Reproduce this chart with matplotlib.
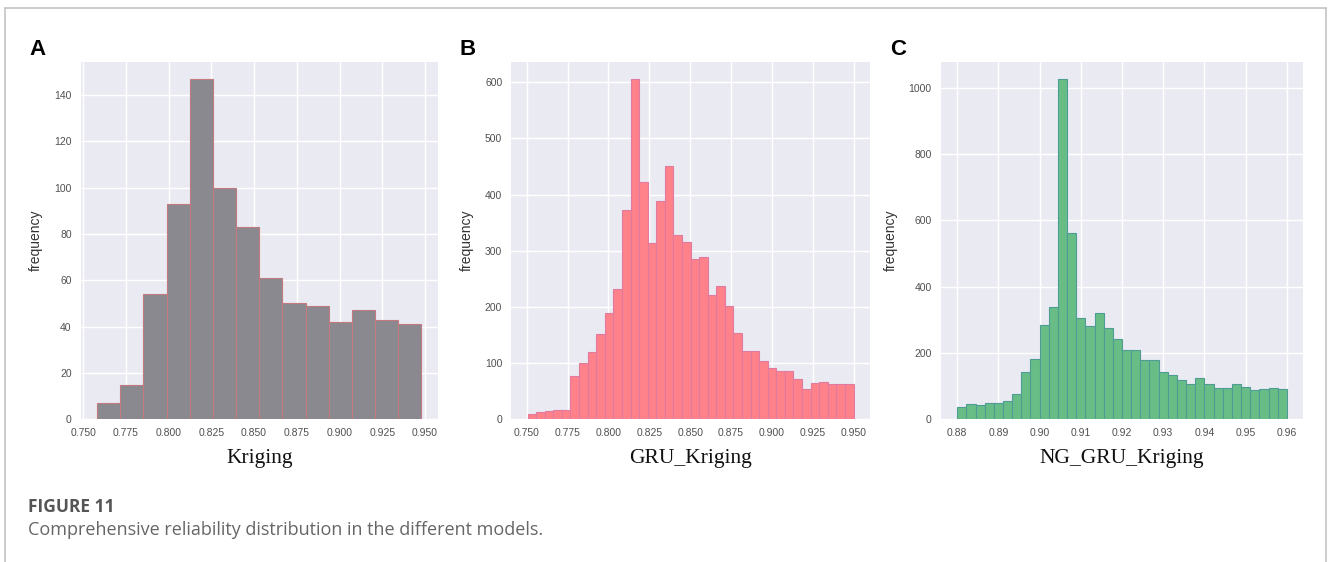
import numpy as np
import matplotlib
matplotlib.use("Agg")
import matplotlib.pyplot as plt
import seaborn as sns
from matplotlib.lines import Line2D

# bin counts read per model
kriging_counts = [7, 15, 54, 93, 147, 100, 83, 61, 50, 49, 42, 47, 43, 41]
kriging_range = (0.758, 0.948)

gru_counts = [10, 13, 15, 17, 17, 77, 101, 119, 151, 190, 231, 372, 606, 423,
              313, 389, 450, 328, 315, 285, 288, 222, 238, 201, 153, 121, 121,
              103, 92, 86, 86, 72, 53, 65, 66, 63, 63, 62]
gru_range = (0.7505, 0.950)

ng_counts = [38, 46, 42, 50, 50, 54, 77, 142, 182, 284, 338, 1027, 561, 305,
             280, 321, 276, 243, 209, 209, 179, 179, 142, 133, 119, 105, 123,
             107, 93, 93, 107, 97, 89, 91, 94, 91]
ng_range = (0.880, 0.960)

panels = [
    ("A", "Kriging", kriging_counts, kriging_range, "#8a8990", "#c27a7e",
     [0.750, 0.775, 0.800, 0.825, 0.850, 0.875, 0.900, 0.925, 0.950], "{:.3f}",
     [0, 20, 40, 60, 80, 100, 120, 140]),
    ("B", "GRU_Kriging", gru_counts, gru_range, "#ff828b", "#e07a9e",
     [0.750, 0.775, 0.800, 0.825, 0.850, 0.875, 0.900, 0.925, 0.950], "{:.3f}",
     [0, 100, 200, 300, 400, 500, 600]),
    ("C", "NG_GRU_Kriging", ng_counts, ng_range, "#68bd86", "#4d9c96",
     [0.88, 0.89, 0.90, 0.91, 0.92, 0.93, 0.94, 0.95, 0.96], "{:.2f}",
     [0, 200, 400, 600, 800, 1000]),
]

sns.set_style("darkgrid")
plt.rcParams["font.family"] = ["Liberation Sans", "DejaVu Sans"]

fig = plt.figure(figsize=(13.28, 5.62), dpi=100)
fig.patch.set_facecolor("white")

boxes = [(0.0608, 0.254, 0.2688, 0.636),
         (0.3850, 0.254, 0.2700, 0.636),
         (0.7084, 0.254, 0.2730, 0.636)]
letter_x = [0.022, 0.346, 0.670]

for (letter, name, counts, rng, face, edge, xt, fmt, yt), box, lx in zip(panels, boxes, letter_x):
    ax = fig.add_axes(box)
    edges = np.linspace(rng[0], rng[1], len(counts) + 1)
    ax.bar(edges[:-1], counts, width=np.diff(edges), align="edge",
           color=face, edgecolor=edge, linewidth=0.8)
    ax.set_xticks(xt)
    ax.set_xticklabels([fmt.format(v) for v in xt])
    ax.set_yticks(yt)
    ax.tick_params(axis="both", labelsize=7.5, colors="#505050", pad=3)
    ax.set_ylabel("frequency", fontsize=10, color="#333333", labelpad=8)
    ax.set_xlabel(name, fontsize=15.5, family=["Liberation Serif", "DejaVu Serif"],
                  color="#111111", labelpad=8)
    ax.grid(True, color="white", linewidth=1.0)
    ax.set_axisbelow(True)
    for s in ax.spines.values():
        s.set_visible(False)
    fig.text(lx, 0.893, letter, fontsize=16, fontweight="bold", color="black",
             ha="left", va="bottom")

# caption
fig.text(0.021, 0.089, "FIGURE 11", fontsize=12.5, fontweight="bold",
         color="#555555", family=["Open Sans", "DejaVu Sans"], stretch="condensed")
fig.text(0.021, 0.048, "Comprehensive reliability distribution in the different models.",
         fontsize=13, color="#666666", family=["Open Sans", "DejaVu Sans"])

# page frame, open at the bottom
frame = dict(color="#c4c4c4", linewidth=1.2, transform=fig.transFigure)
fig.add_artist(Line2D([0.0035, 0.0035], [0.0, 0.986], **frame))
fig.add_artist(Line2D([0.0035, 0.9985], [0.986, 0.986], **frame))
fig.add_artist(Line2D([0.9985, 0.9985], [0.0, 0.986], **frame))

fig.savefig("out.png", dpi=100, facecolor="white")
